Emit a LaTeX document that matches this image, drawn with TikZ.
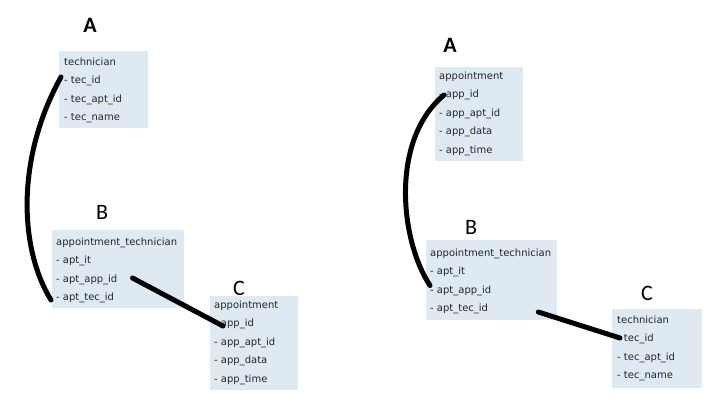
\documentclass[tikz,border=0pt]{standalone}
\usepackage{fontspec}
\setmainfont{DejaVu Sans}
\newfontfamily\labelfont{Carlito}
\definecolor{boxfill}{RGB}{222,233,241}
\definecolor{rowtext}{RGB}{38,38,42}
\begin{document}
\begin{tikzpicture}[x=1pt, y=-1pt,
  table/.style={fill=boxfill, inner sep=0pt, anchor=north west},
  row/.style={font=\fontsize{10}{12}\selectfont, text=rowtext, inner sep=0pt, anchor=base west, text height=7pt, text depth=2pt},
  tag/.style={font=\labelfont\fontsize{22}{26}\selectfont},
  link/.style={line width=5pt, line cap=round}]
  \useasboundingbox (0,0) rectangle (724,410);
  \node[table, minimum width=89pt, minimum height=77pt] (la) at (59,51) {};
  \node[table, minimum width=132pt, minimum height=78pt] (lb) at (52,230) {};
  \node[table, minimum width=88pt, minimum height=94pt] (lc) at (210,296) {};
  \node[table, minimum width=88pt, minimum height=94pt] (ra) at (435,67) {};
  \node[table, minimum width=131pt, minimum height=80pt] (rb) at (426,240) {};
  \node[table, minimum width=90pt, minimum height=79pt] (rc) at (612,309) {};
  \foreach \t [count=\i] in {technician, - tec\_id, - tec\_apt\_id, - tec\_name}
    \node[row] (la\i) at (64, {46.5+18.5*\i}) {\t};
  \foreach \t [count=\i] in {appointment\_technician, - apt\_it, - apt\_app\_id, - apt\_tec\_id}
    \node[row] (lb\i) at (56, {226.5+18.5*\i}) {\t};
  \foreach \t [count=\i] in {appointment, - app\_id, - app\_apt\_id, - app\_data, - app\_time}
    \node[row] (lc\i) at (214, {289.5+18.5*\i}) {\t};
  \foreach \t [count=\i] in {appointment, - app\_id, - app\_apt\_id, - app\_data, - app\_time}
    \node[row] (ra\i) at (439, {60.5+18.5*\i}) {\t};
  \foreach \t [count=\i] in {appointment\_technician, - apt\_it, - apt\_app\_id, - apt\_tec\_id}
    \node[row] (rb\i) at (430, {237.5+18.5*\i}) {\t};
  \foreach \t [count=\i] in {technician, - tec\_id, - tec\_apt\_id, - tec\_name}
    \node[row] (rc\i) at (617, {304.5+18.5*\i}) {\t};
  \node[tag, font=\labelfont\bfseries\fontsize{22}{26}\selectfont] (laTag) at (90,25) {A};
  \node[tag] (lbTag) at (102,212) {B};
  \node[tag] (lcTag) at (239,288) {C};
  \node[tag, font=\labelfont\bfseries\fontsize{22}{26}\selectfont] (raTag) at (450,45) {A};
  \node[tag] (rbTag) at (471,227) {B};
  \node[tag] (rcTag) at (647,293) {C};
  \draw[link] ([shift={(-3,-4)}]la2.west) .. controls (15,160) and (20,250) .. ([shift={(-5,2)}]lb4.west);
  \draw[link] ([shift={(15,-1.5)}]lb3.east) -- ([shift={(9,2)}]lc2.west);
  \draw[link] ([shift={(5,0)}]ra2.west) .. controls (390,140) and (400,240) .. ([shift={(0,-5)}]rb3.west);
  \draw[link] ([shift={(50,3)}]rb4.east) -- ([shift={(3,-1)}]rc2.west);
\end{tikzpicture}
\end{document}
